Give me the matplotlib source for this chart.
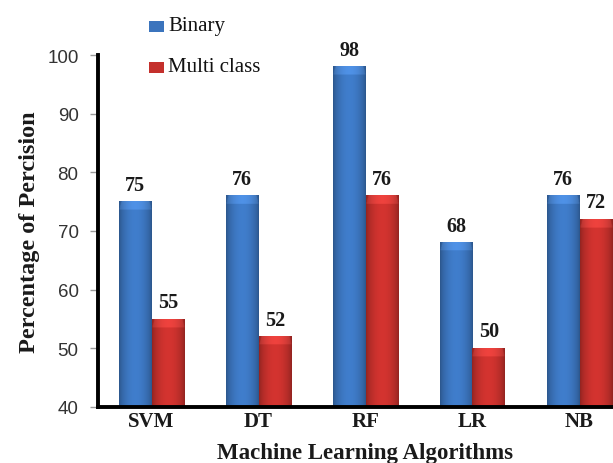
import numpy as np
import matplotlib
matplotlib.use("Agg")
import matplotlib.pyplot as plt
from matplotlib.colors import to_rgb
from matplotlib.patches import Rectangle

algorithms = ["SVM", "DT", "RF", "LR", "NB"]
binary = [75, 76, 98, 68, 76]
multi_class = [55, 52, 76, 50, 72]
y_ticks = [40, 50, 60, 70, 80, 90, 100]

serif = ["Liberation Serif", "DejaVu Serif"]
sans = ["Liberation Sans", "DejaVu Sans"]

BLUE = "#3b74bd"
RED = "#c4302c"

fig = plt.figure(figsize=(6.13, 4.64), dpi=100)
ax = fig.add_axes([98 / 613, 56 / 464, 535 / 613, 352 / 464])
ax.set_xlim(-0.5, 4.5)
ax.set_ylim(40, 100)

width = 0.305


def shaded_bar(ax, x0, w, top, base_hex):
    base = np.array(to_rgb(base_hex))
    nx, ny = 60, 240
    t = np.linspace(-1, 1, nx)
    # cylinder-like horizontal shading: lighter in the middle, darker at edges
    shade = 0.74 + 0.34 * np.cos(t * np.pi / 2) ** 0.7
    row = np.clip(base[None, :] * shade[:, None], 0, 1)
    img = np.repeat(row[None, :, :], ny, axis=0)
    # soft bevel at the top of the bar
    height_data = top - 40
    bevel = 1.4 / height_data
    rows = np.linspace(0, 1, ny)  # 0 = top
    light = np.clip(row * 1.08 + 0.04, 0, 1)
    for j, r in enumerate(rows):
        if r < bevel:
            inset = 0.14 * (1 - r / bevel)
            mask = np.abs(t) < 1 - inset
            img[j, mask] = light[mask]
    ax.imshow(img, extent=[x0, x0 + w, 40, top], aspect="auto",
              interpolation="bilinear", zorder=2)


xs = np.arange(len(algorithms))
for i, (b, m) in enumerate(zip(binary, multi_class)):
    shaded_bar(ax, xs[i] - width, width, b, BLUE)
    shaded_bar(ax, xs[i], width, m, RED)
    ax.annotate(str(b), (xs[i] - width / 2, b), xytext=(0, 5),
                textcoords="offset points", ha="center", va="bottom",
                fontsize=14.5, fontweight="bold", family=serif,
                color="#1a1a1a")
    ax.annotate(str(m), (xs[i] + width / 2, m), xytext=(0, 5),
                textcoords="offset points", ha="center", va="bottom",
                fontsize=14.5, fontweight="bold", family=serif,
                color="#1a1a1a")

ax.set_xlim(-0.5, 4.5)
ax.set_ylim(40, 100)

ax.set_xticks(xs)
ax.set_xticklabels(algorithms, fontsize=15, fontweight="bold", family=serif,
                   color="#1a1a1a")
ax.tick_params(axis="x", length=0, pad=3)
ax.set_yticks(y_ticks)
ax.set_yticklabels([str(v) for v in y_ticks], fontsize=13.5, family=sans,
                   color="#333333")
ax.tick_params(axis="y", length=6, width=1, color="#999999", pad=8)

for side in ("top", "right"):
    ax.spines[side].set_visible(False)
for side in ("left", "bottom"):
    ax.spines[side].set_linewidth(2.8)
    ax.spines[side].set_color("black")

ax.set_ylabel("Percentage of Percision", fontsize=17.5, fontweight="bold",
              family=serif, labelpad=5, color="#1a1a1a")
ax.set_xlabel("Machine Learning Algorithms", fontsize=16.5, fontweight="bold",
              family=serif, labelpad=8, color="#1a1a1a")

# legend
legend_items = [("Binary", BLUE, 27), ("Multi class", RED, 68)]
for label, color, ypix in legend_items:
    yf = 1 - ypix / 464
    fig.patches.append(Rectangle((149 / 613, yf - 6 / 464), 15 / 613, 11 / 464,
                                 transform=fig.transFigure, facecolor=color,
                                 edgecolor="none", figure=fig))
    fig.text(168 / 613, yf, label, fontsize=15, family=serif,
             va="center", ha="left", color="#111111")

fig.savefig("out.png", dpi=100)
